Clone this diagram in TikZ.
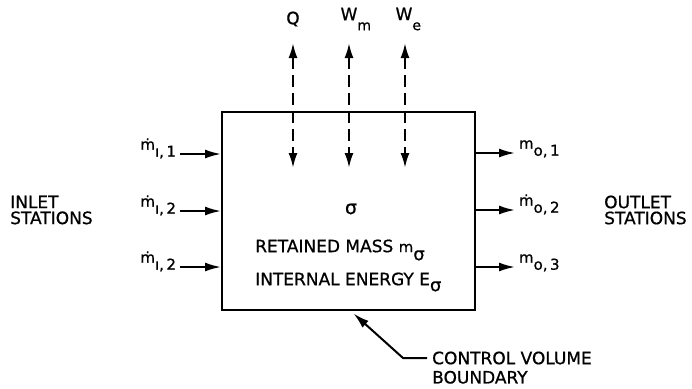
\documentclass[tikz,border=0pt]{standalone}
\usepackage{fontspec}
\setmainfont{DejaVu Sans}[FakeBold=0.8]
\usetikzlibrary{arrows.meta,positioning}
\newcommand{\lowsub}[2]{\raisebox{-#1}{\fontsize{14}{14}\selectfont #2}}
\newcommand{\flowlbl}[2]{\raisebox{7pt}{\fontsize{15}{15}\selectfont #1}#2}

\begin{document}
\begin{tikzpicture}[x=1pt,y=-1pt,font=\fontsize{17}{16}\selectfont,
   cvbox/.style={draw,line width=2pt,minimum width=253pt,minimum height=198pt,inner sep=0pt},
   flow/.style={-{Latex[length=16pt,width=9pt]},line width=2pt},
   heat/.style={{Latex[length=15pt,width=9pt]}-{Latex[length=15pt,width=9pt]},
                line width=2.2pt,dash pattern=on 12pt off 6pt},
   lbl/.style={inner sep=1pt,outer sep=3pt,font=\fontsize{15}{15}\selectfont},
   title/.style={align=left,inner sep=0pt}]
  \useasboundingbox (0,0) rectangle (692,388);
  \node[cvbox] (cv) at (348.5,210.5) {};
  % heat and work across the top
  \node[inner sep=0pt] (q) at (293,19) {Q};
  \node[inner sep=0pt] (wm) at (349,19) {W\rlap{\lowsub{10pt}{m}}};
  \node[inner sep=0pt] (we) at (404,19) {W\rlap{\lowsub{10pt}{e}}};
  \draw[heat] ([yshift=-24pt]q.center) -- ([yshift=-149pt]q.center);
  \draw[heat] ([yshift=-24pt]wm.center) -- ([yshift=-149pt]wm.center);
  \draw[heat] ([xshift=1pt,yshift=-24pt]we.center) -- ([xshift=1pt,yshift=-149pt]we.center);
  % inlet side
  \node[title,anchor=west] (inlet) at (10,210) {INLET\\STATIONS};
  \node[lbl,anchor=mid east] (in1) at (180,154) {\flowlbl{ṁ}{ı,\,1}};
  \node[lbl,anchor=mid east] (in2) at (180,211) {\flowlbl{ṁ}{ı,\,2}};
  \node[lbl,anchor=mid east] (in3) at (180,267) {\flowlbl{ṁ}{ı,\,2}};
  \draw[flow] (in1.mid east) -- (in1.mid east -| cv.west);
  \draw[flow] (in2.mid east) -- (in2.mid east -| cv.west);
  \draw[flow] (in3.mid east) -- (in3.mid east -| cv.west);
  % outlet side
  \node[title,anchor=west] (outlet) at (604,210) {OUTLET\\STATIONS};
  \node[lbl,anchor=mid west] (out1) at (515,153) {\flowlbl{m}{o,\,1}};
  \node[lbl,anchor=mid west] (out2) at (515,210) {\flowlbl{ṁ}{o,\,2}};
  \node[lbl,anchor=mid west] (out3) at (515,267) {\flowlbl{m}{o,\,3}};
  \draw[flow] (cv.east |- out1.mid west) -- (out1.mid west);
  \draw[flow] (cv.east |- out2.mid west) -- (out2.mid west);
  \draw[flow] (cv.east |- out3.mid west) -- (out3.mid west);
  % contents of the control volume
  \node[font=\fontsize{19}{19}\selectfont] (sig) at (351,209) {σ};
  \node[anchor=west,inner sep=0pt] (mass) at (255,250)
     {RETAINED MASS {\fontsize{15}{15}\selectfont m}\raisebox{-8pt}{\fontsize{18}{18}\selectfont σ}};
  \node[anchor=west,inner sep=0pt] (energy) at (255,282)
     {INTERNAL ENERGY E\raisebox{-6pt}{\fontsize{18}{18}\selectfont σ}};
  % boundary callout
  \node[anchor=west,inner sep=0pt] (cvtxt) at (432,358) {CONTROL VOLUME};
  \node[anchor=north west,inner sep=0pt] (bdtxt) at ([yshift=-6pt]cvtxt.south west) {BOUNDARY};
  \draw[flow] ([xshift=-5pt]cvtxt.west) -- ++(-24pt,0) -- ([xshift=5pt,yshift=-3pt]cv.south);
\end{tikzpicture}
\end{document}
